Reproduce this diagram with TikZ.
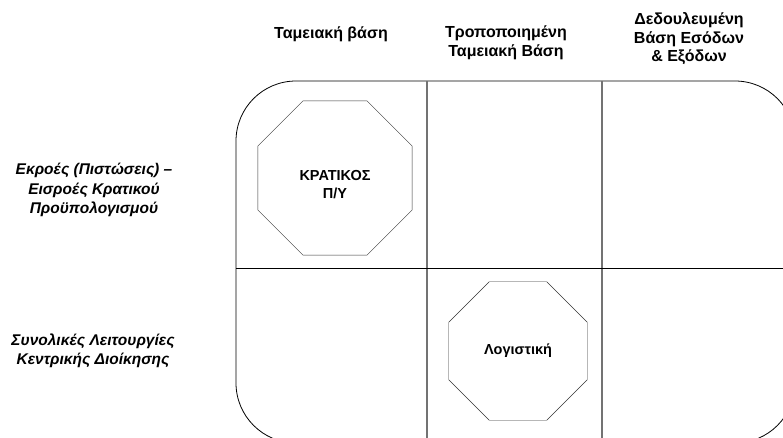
\documentclass[tikz,border=0pt]{standalone}
\usepackage{fontspec}
\setmainfont{Liberation Sans}
\usetikzlibrary{shapes.geometric}
\begin{document}
\begin{tikzpicture}[x=1pt,y=-1pt,
  hdr/.style={font=\fontsize{16}{18.5}\selectfont\bfseries, align=center, inner sep=0pt},
  rowlbl/.style={font=\fontsize{15.5}{19.5}\selectfont\bfseries\itshape, align=center, inner sep=0pt},
  octfont/.style={font=\fontsize{14.5}{18}\selectfont\bfseries, align=center, inner sep=0pt},
  octa/.style={draw=black!80, regular polygon, regular polygon sides=8, inner sep=0pt, octfont},
  gridv/.style={draw=black!55, line width=1.3pt},
  gridh/.style={draw=black, line width=0.8pt}]
\useasboundingbox (0,0) rectangle (783,437);
\clip (0,0) rectangle (783,437);
\fill[white] (0,0) rectangle (783,437);
% frame
\draw[line width=0.8pt, rounded corners=60pt] (236,81) rectangle (795,443);
\coordinate (v1t) at (427,81); \coordinate (v1b) at (427,445);
\coordinate (v2t) at (602,81); \coordinate (v2b) at (602,445);
\coordinate (hl) at (236,268); \coordinate (hr) at (800,268);
\draw[gridv] (v1t) -- (v1b);
\draw[gridv] (v2t) -- (v2b);
\draw[gridh] (hl) -- (hr);
% headers
\node[hdr] (h1) at (331,34) {Ταμειακή βάση};
\node[hdr] (h2) at (506,43) {Τροποποιημένη\\Ταμειακή Βάση};
\node[hdr] (h3) at (689,39) {Δεδουλευμένη\\Βάση Εσόδων\\\& Εξόδων};
% row labels
\node[rowlbl] (r1) at (94,190) {Εκροές (Πιστώσεις) –\\Εισροές Κρατικού\\Προϋπολογισμού};
\node[rowlbl] (r2) at (93,351) {Συνολικές Λειτουργίες\\Κεντρικής Διοίκησης};
% octagons
\node[octa, minimum size=167pt] (o1) at (335,178) {};
\node[octfont] (t1) at (335,185) {ΚΡΑΤΙΚΟΣ\\Π/Υ};
\node[octa, minimum size=150pt] (o2) at (518,351) {Λογιστική};
\end{tikzpicture}
\end{document}
